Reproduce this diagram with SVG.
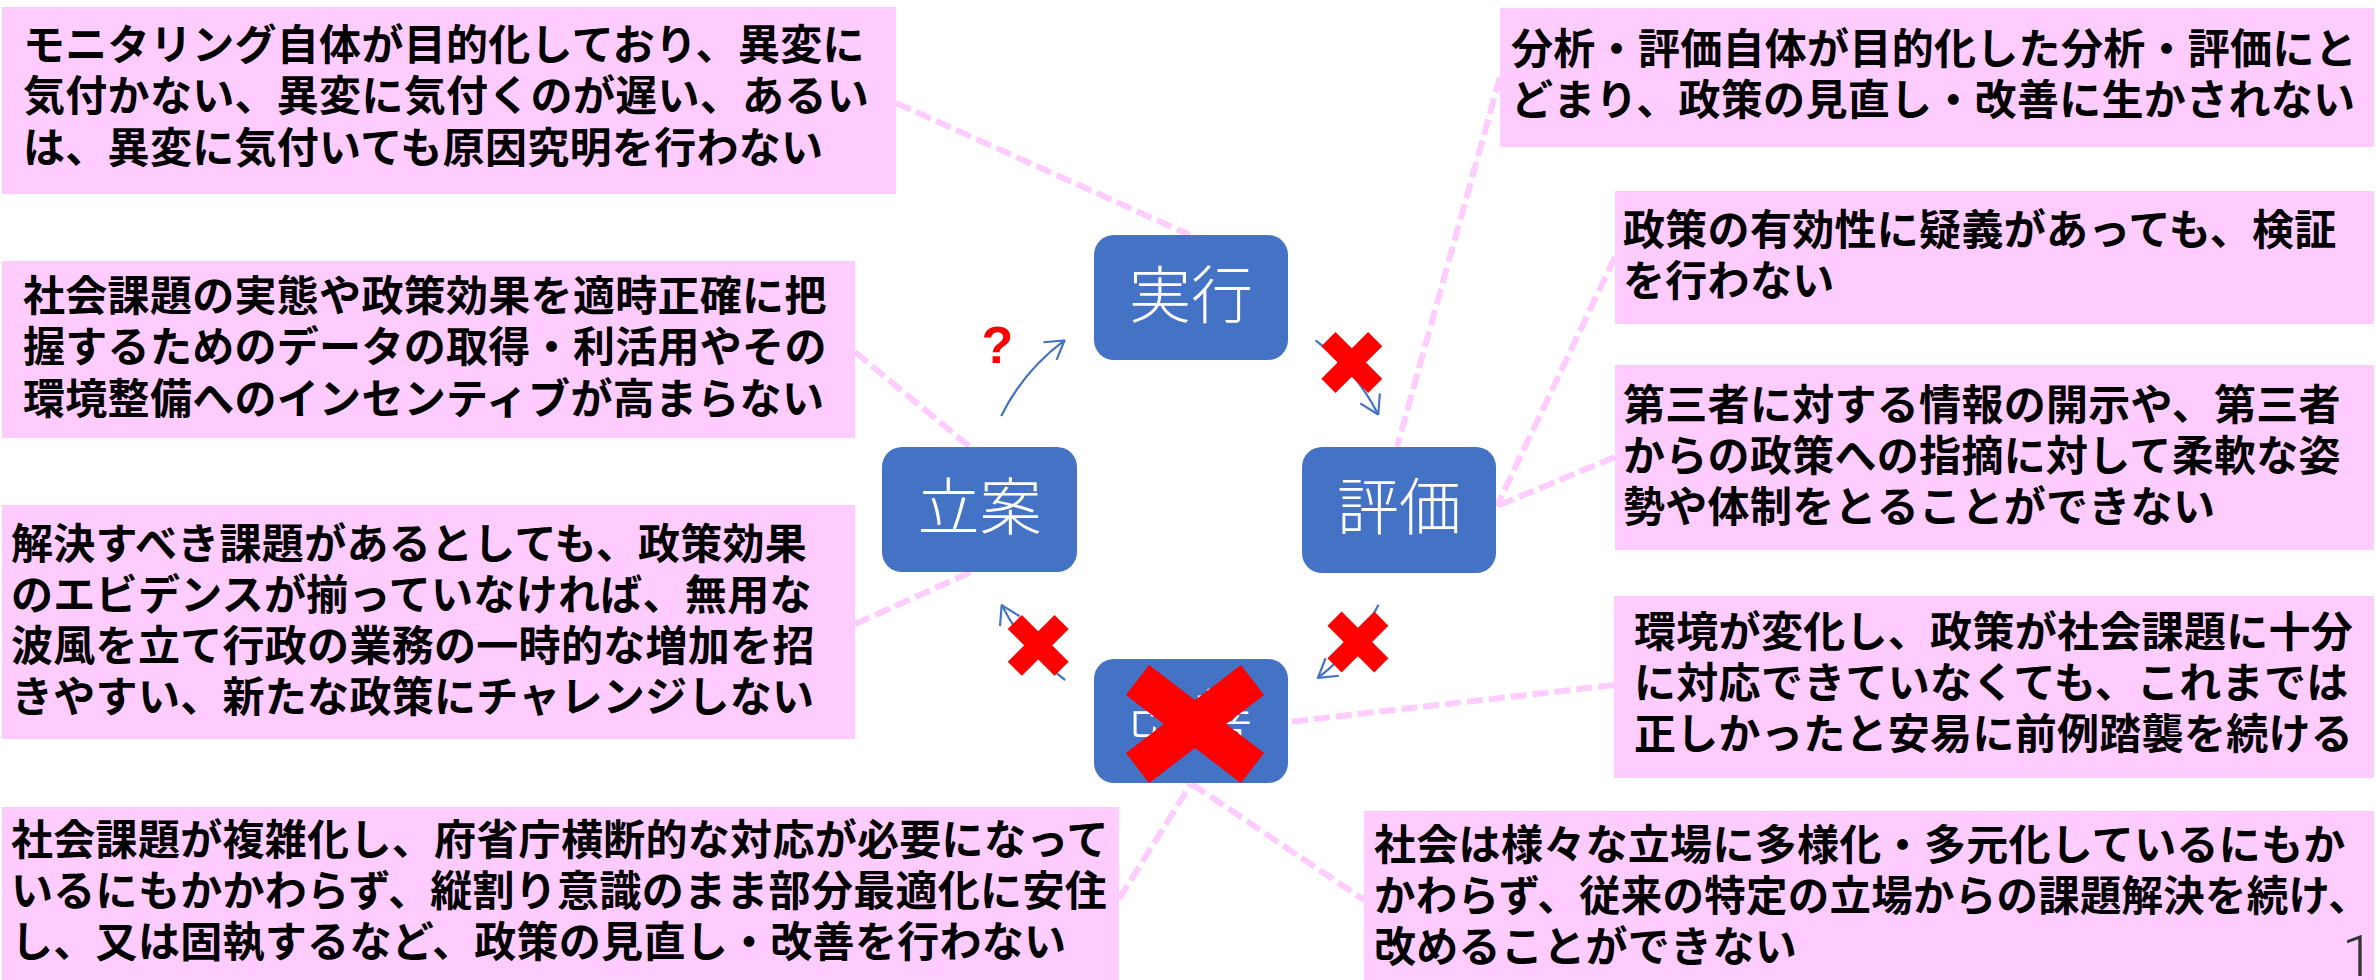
<svg xmlns="http://www.w3.org/2000/svg" width="2376" height="980" viewBox="0 0 2376 980">
  <defs>
    <style>
      .box { fill: #FFCCFF; }
      .txt { font-family: "Noto Sans CJK JP", "Noto Sans", sans-serif; font-size: 42px; font-weight: 700; fill: #000000; letter-spacing: 0.3px; }
      .node { fill: #4472C4; }
      .ntxt { font-family: "Noto Sans CJK JP", "Noto Sans", sans-serif; font-size: 62px; font-weight: 300; fill: #FFFFFF; text-anchor: middle; }
      .dash { stroke: #FFCCFF; stroke-width: 6; stroke-dasharray: 16 6; fill: none; }
      .arc { stroke: #4472C4; stroke-width: 2.2; fill: none; marker-end: url(#arrow); }
      .xs { stroke: #FF0000; stroke-width: 20; stroke-linecap: butt; }
      .xb { stroke: #FF0000; stroke-width: 38; stroke-linecap: butt; }
      .q { font-family: "Liberation Sans", Arial, sans-serif; font-size: 52px; font-weight: 700; fill: #FF0000; text-anchor: middle; }
      .pg { font-family: "Roboto", "Open Sans", "Liberation Sans", sans-serif; font-size: 58px; font-weight: 300; fill: #333333; text-anchor: middle; }
    </style>
    <marker id="arrow" viewBox="0 0 20 24" refX="19" refY="12" markerWidth="20" markerHeight="24" markerUnits="userSpaceOnUse" orient="auto">
      <path d="M1,1 L19,12 L1,23" fill="none" stroke="#4472C4" stroke-width="2.2"/>
    </marker>
  </defs>
  <rect x="0" y="0" width="2376" height="980" fill="#FFFFFF"/>

  <g id="connectors">
    <line class="dash" x1="896" y1="103" x2="1190" y2="235"/>
    <line class="dash" x1="855" y1="352" x2="970" y2="447"/>
    <line class="dash" x1="855" y1="624" x2="971" y2="572"/>
    <line class="dash" x1="1119" y1="899" x2="1191" y2="784"/>
    <line class="dash" x1="1500" y1="77" x2="1397" y2="447"/>
    <line class="dash" x1="1615" y1="257" x2="1497" y2="506"/>
    <line class="dash" x1="1615" y1="457" x2="1497" y2="506"/>
    <line class="dash" x1="1614" y1="685" x2="1288" y2="722"/>
    <line class="dash" x1="1192" y1="784" x2="1364" y2="900"/>
    <path class="arc" d="M1001.2,415.9 A211,211 0 0 1 1064.5,340.4"/>
    <path class="arc" d="M1315.5,340.4 A211,211 0 0 1 1378.2,414.5"/>
    <path class="arc" d="M1378.5,604.8 A211,211 0 0 1 1317.9,677.9"/>
    <path class="arc" d="M1065.1,680.0 A211,211 0 0 1 1001.7,605.1"/>
  </g>

  <g id="box1">
    <rect class="box" x="2" y="7" width="894" height="187"/>
    <text class="txt"><tspan x="23" y="60">モニタリング自体が目的化しており、異変に</tspan><tspan x="23" y="111">気付かない、異変に気付くのが遅い、あるい</tspan><tspan x="23" y="163">は、異変に気付いても原因究明を行わない</tspan></text>
  </g>
  <g id="box2">
    <rect class="box" x="2" y="261" width="853" height="177"/>
    <text class="txt"><tspan x="23" y="311">社会課題の実態や政策効果を適時正確に把</tspan><tspan x="23" y="362">握するためのデータの取得・利活用やその</tspan><tspan x="23" y="414">環境整備へのインセンティブが高まらない</tspan></text>
  </g>
  <g id="box3">
    <rect class="box" x="2" y="505" width="853" height="234"/>
    <text class="txt"><tspan x="11" y="559">解決すべき課題があるとしても、政策効果</tspan><tspan x="11" y="610">のエビデンスが揃っていなければ、無用な</tspan><tspan x="11" y="661">波風を立て行政の業務の一時的な増加を招</tspan><tspan x="11" y="712">きやすい、新たな政策にチャレンジしない</tspan></text>
  </g>
  <g id="box4">
    <rect class="box" x="2" y="807" width="1117" height="173"/>
    <text class="txt"><tspan x="11" y="855">社会課題が複雑化し、府省庁横断的な対応が必要になって</tspan><tspan x="11" y="906">いるにもかかわらず、縦割り意識のまま部分最適化に安住</tspan><tspan x="11" y="957">し、又は固執するなど、政策の見直し・改善を行わない</tspan></text>
  </g>
  <g id="box5">
    <rect class="box" x="1500" y="8" width="874" height="139"/>
    <text class="txt"><tspan x="1511" y="64">分析・評価自体が目的化した分析・評価にと</tspan><tspan x="1511" y="115">どまり、政策の見直し・改善に生かされない</tspan></text>
  </g>
  <g id="box6">
    <rect class="box" x="1615" y="191" width="759" height="133"/>
    <text class="txt"><tspan x="1623" y="245">政策の有効性に疑義があっても、検証</tspan><tspan x="1623" y="296">を行わない</tspan></text>
  </g>
  <g id="box7">
    <rect class="box" x="1615" y="365" width="759" height="185"/>
    <text class="txt"><tspan x="1623" y="420">第三者に対する情報の開示や、第三者</tspan><tspan x="1623" y="471">からの政策への指摘に対して柔軟な姿</tspan><tspan x="1623" y="522">勢や体制をとることができない</tspan></text>
  </g>
  <g id="box8">
    <rect class="box" x="1614" y="596" width="760" height="182"/>
    <text class="txt"><tspan x="1634" y="647">環境が変化し、政策が社会課題に十分</tspan><tspan x="1634" y="698">に対応できていなくても、これまでは</tspan><tspan x="1634" y="749">正しかったと安易に前例踏襲を続ける</tspan></text>
  </g>
  <g id="box9">
    <rect class="box" x="1364" y="811" width="1010" height="169"/>
    <text class="txt" x="1374" y="860">社会は様々な立場に多様化・多元化しているにもか</text>
    <text class="txt" x="1374" y="911" textLength="996" lengthAdjust="spacingAndGlyphs">かわらず、従来の特定の立場からの課題解決を続け、</text>
    <text class="txt" x="1374" y="962">改めることができない</text>
  </g>

  <g id="node-jikko">
    <rect class="node" x="1094" y="235" width="194" height="125" rx="20"/>
    <text class="ntxt" x="1191" y="318">実行</text>
  </g>
  <g id="node-hyoka">
    <rect class="node" x="1302" y="447" width="194" height="126" rx="20"/>
    <text class="ntxt" x="1399" y="530">評価</text>
  </g>
  <g id="node-kaizen">
    <rect class="node" x="1094" y="659" width="194" height="124" rx="20"/>
    <text class="ntxt" x="1191" y="741">改善</text>
  </g>
  <g id="node-ritsuan">
    <rect class="node" x="882" y="447" width="195" height="125" rx="20"/>
    <text class="ntxt" x="979.5" y="530">立案</text>
  </g>

  <g id="marks">
    <text class="q" x="997.5" y="363">?</text>
    <g id="x1">
      <line class="xs" x1="1328.4" y1="339.1" x2="1375.2" y2="385.9"/>
      <line class="xs" x1="1328.4" y1="385.9" x2="1375.2" y2="339.1"/>
    </g>
    <g id="x2">
      <line class="xs" x1="1334.5" y1="618.6" x2="1381.3" y2="665.4"/>
      <line class="xs" x1="1334.5" y1="665.4" x2="1381.3" y2="618.6"/>
    </g>
    <g id="x3">
      <line class="xs" x1="1014.8" y1="622" x2="1061.6" y2="668.8"/>
      <line class="xs" x1="1014.8" y1="668.8" x2="1061.6" y2="622"/>
    </g>
    <g id="xbig">
      <line class="xb" x1="1137.5" y1="680" x2="1252.5" y2="768"/>
      <line class="xb" x1="1137.5" y1="768" x2="1252.5" y2="680"/>
    </g>
  </g>

  <text class="pg" x="2358" y="976">1</text>
</svg>
